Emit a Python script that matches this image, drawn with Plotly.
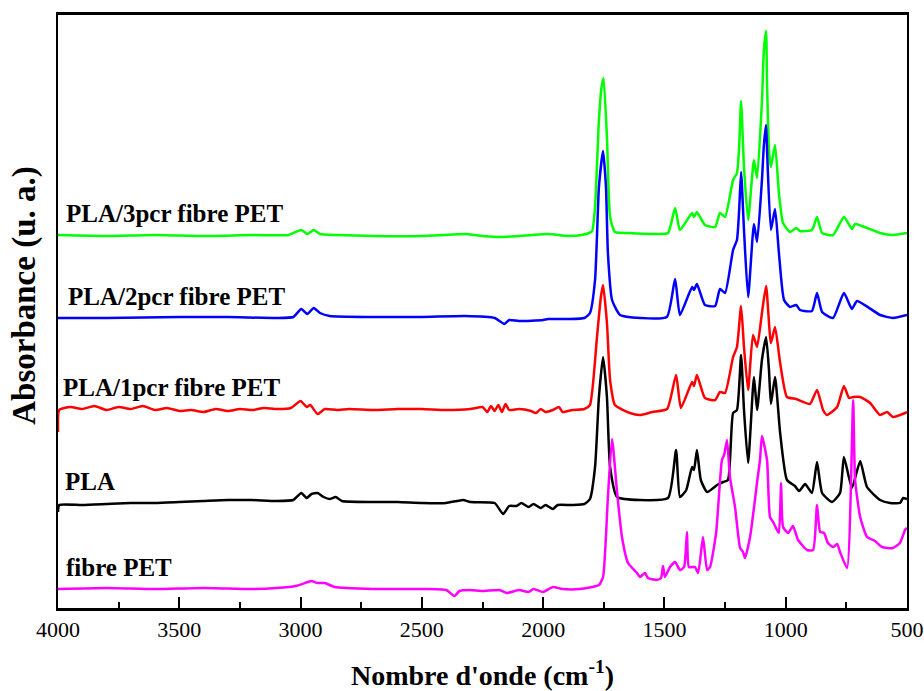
import plotly.graph_objects as go

# FTIR spectra (absorbance, arbitrary units, vertically offset for readability)

wn_pla3 = [4000, 3800, 3600, 3400, 3200, 3050, 2997, 2972, 2946, 2920, 2850, 2700, 2500, 2322, 2250,
           2166, 2100, 1980, 1900, 1840, 1811, 1798, 1786, 1770, 1759, 1751, 1737, 1724, 1704, 1650,
           1530, 1485, 1456, 1436, 1386, 1378, 1366, 1333, 1291, 1271, 1250, 1217, 1201, 1192, 1184,
           1172, 1155, 1131, 1118, 1098, 1090, 1081, 1077, 1069, 1061, 1044, 1028, 1011, 982, 957,
           941, 892, 871, 850, 805, 760, 727, 714, 611, 558, 500]
abs_pla3 = [373, 372, 373, 372, 373, 373, 378, 374, 378, 374, 373, 372, 372, 374, 372,
            371, 372, 374, 372, 373, 375, 377, 401, 488, 521, 530, 471, 391, 376, 375,
            374, 375, 400, 378, 395, 391, 396, 383, 381, 395, 391, 428, 435, 461, 507,
            441, 388, 448, 430, 507, 558, 577, 525, 458, 441, 463, 415, 385, 376, 380,
            377, 378, 391, 375, 373, 391, 379, 384, 375, 373, 375]

wn_pla2 = [4000, 3800, 3500, 3300, 3100, 3030, 2997, 2972, 2946, 2920, 2880, 2700, 2500, 2322, 2200,
           2160, 2140, 2100, 2000, 1980, 1900, 1830, 1807, 1786, 1770, 1753, 1741, 1733, 1716, 1683,
           1600, 1490, 1456, 1436, 1386, 1378, 1366, 1333, 1291, 1271, 1250, 1217, 1201, 1192, 1184,
           1172, 1155, 1131, 1118, 1098, 1090, 1081, 1077, 1061, 1044, 1028, 1007, 982, 957, 941,
           892, 871, 850, 805, 760, 727, 706, 611, 558, 500]
abs_pla2 = [290, 290, 291, 291, 290, 291, 299, 294, 300, 295, 292, 291, 291, 292, 290,
            284, 288, 287, 288, 289, 289, 290, 295, 328, 421, 457, 421, 355, 308, 293,
            290, 291, 329, 293, 321, 318, 324, 303, 302, 319, 315, 358, 368, 398, 436,
            378, 311, 384, 366, 428, 463, 483, 458, 378, 399, 355, 308, 301, 303, 298,
            297, 315, 296, 290, 315, 299, 307, 293, 290, 293]

wn_pla1 = [4000, 3995, 3950, 3900, 3850, 3800, 3750, 3700, 3650, 3600, 3550, 3500, 3450, 3400, 3350,
           3300, 3250, 3200, 3150, 3100, 3040, 3000, 2975, 2960, 2930, 2900, 2850, 2800, 2700, 2600,
           2500, 2400, 2300, 2250, 2230, 2215, 2200, 2185, 2170, 2155, 2140, 2100, 2050, 2030, 2010,
           1990, 1960, 1935, 1920, 1880, 1830, 1807, 1778, 1762, 1753, 1737, 1724, 1704, 1642, 1601,
           1550, 1489, 1452, 1432, 1386, 1378, 1366, 1333, 1291, 1271, 1250, 1217, 1201, 1184, 1172,
           1155, 1135, 1118, 1098, 1081, 1061, 1044, 1023, 995, 957, 900, 871, 846, 830, 788,
           760, 739, 722, 693, 652, 611, 582, 558, 508, 500]
abs_pla1 = [176, 198, 201, 199, 202, 198, 201, 199, 202, 198, 200, 197, 198, 196, 199,
            197, 199, 198, 200, 199, 200, 207, 201, 203, 194, 199, 198, 199, 198, 199,
            199, 198, 199, 201, 196, 202, 197, 203, 196, 204, 198, 199, 197, 195, 199,
            196, 198, 201, 196, 198, 199, 203, 271, 311, 323, 285, 228, 203, 195, 193,
            196, 199, 233, 200, 226, 222, 233, 210, 208, 216, 215, 251, 261, 302, 261,
            218, 273, 261, 295, 322, 265, 281, 245, 211, 209, 204, 218, 198, 193, 201,
            222, 210, 211, 211, 205, 193, 196, 191, 195, 196]

wn_pla = [4000, 3995, 3900, 3800, 3700, 3600, 3500, 3400, 3300, 3200, 3100, 3030, 2997, 2975, 2955,
          2930, 2905, 2880, 2855, 2830, 2700, 2600, 2500, 2400, 2330, 2300, 2200, 2165, 2140, 2110,
          2090, 2060, 2040, 2010, 1990, 1960, 1940, 1880, 1830, 1807, 1786, 1770, 1753, 1737, 1724,
          1695, 1601, 1485, 1452, 1436, 1410, 1386, 1378, 1366, 1350, 1324, 1283, 1258, 1238, 1217,
          1201, 1184, 1172, 1155, 1131, 1118, 1098, 1081, 1069, 1061, 1044, 1023, 995, 962, 945,
          920, 892, 871, 850, 809, 776, 760, 727, 693, 665, 611, 570, 529, 516, 500]
abs_pla = [96, 103, 103, 104, 105, 105, 106, 107, 108, 108, 107, 108, 115, 110, 114,
           115, 111, 109, 111, 107, 106, 106, 105, 105, 108, 106, 105, 94, 102, 102,
           105, 101, 104, 100, 103, 99, 103, 103, 104, 109, 141, 211, 251, 211, 141,
           111, 108, 110, 158, 111, 118, 141, 138, 158, 128, 116, 123, 126, 128, 195,
           198, 253, 198, 145, 231, 198, 248, 271, 238, 204, 231, 175, 128, 122, 117,
           124, 115, 146, 115, 106, 115, 151, 120, 147, 121, 108, 105, 105, 110, 109]

wn_pet = [4000, 3800, 3600, 3400, 3200, 3100, 3020, 2970, 2955, 2930, 2900, 2860, 2700, 2500, 2400,
          2365, 2345, 2300, 2250, 2180, 2150, 2100, 2060, 2040, 2000, 1960, 1920, 1850, 1770, 1753,
          1733, 1716, 1695, 1675, 1650, 1613, 1601, 1580, 1568, 1531, 1514, 1506, 1498, 1477, 1456,
          1436, 1419, 1407, 1399, 1374, 1361, 1341, 1324, 1312, 1287, 1263, 1254, 1242, 1230, 1209,
          1188, 1176, 1168, 1147, 1127, 1118, 1106, 1098, 1077, 1065, 1052, 1036, 1028, 1019, 1011,
          990, 970, 949, 912, 887, 871, 858, 842, 826, 805, 788, 776, 747, 722, 714,
          693, 665, 632, 603, 558, 529, 508, 500]
abs_pet = [19, 20, 19, 20, 19, 20, 22, 26, 27, 25, 25, 21, 19, 19, 18,
           12, 17, 18, 17, 18, 15, 18, 16, 19, 16, 21, 19, 19, 23, 31,
           111, 169, 115, 71, 45, 35, 31, 35, 30, 28, 30, 42, 31, 41, 46,
           38, 41, 76, 41, 41, 35, 71, 38, 41, 75, 148, 153, 168, 131, 101,
           60, 56, 50, 71, 108, 126, 148, 172, 148, 91, 86, 78, 75, 125, 81,
           75, 82, 68, 58, 58, 103, 76, 75, 65, 61, 64, 56, 40, 208, 128,
           91, 71, 67, 61, 60, 65, 78, 80]

series = [
    ("PLA/3pcr fibre PET", wn_pla3, abs_pla3, "#00FF00"),
    ("PLA/2pcr fibre PET", wn_pla2, abs_pla2, "#0000FF"),
    ("PLA/1pcr fibre PET", wn_pla1, abs_pla1, "#FF0000"),
    ("PLA", wn_pla, abs_pla, "#000000"),
    ("fibre PET", wn_pet, abs_pet, "#FF00FF"),
]

# label anchor: (wavenumber, absorbance) of each curve's name
label_pos = {
    "PLA/3pcr fibre PET": (3975, 395),
    "PLA/2pcr fibre PET": (3967, 312),
    "PLA/1pcr fibre PET": (3987, 221),
    "PLA": (3979, 127),
    "fibre PET": (3975, 41),
}

serif = "Liberation Serif, Times New Roman, serif"

fig = go.Figure()
for name, x, y, color in series:
    fig.add_trace(go.Scatter(x=x, y=y, mode="lines", name=name,
                             line=dict(color=color, width=2.5, shape="spline", smoothing=0.5)))
    lx, ly = label_pos[name]
    fig.add_annotation(x=lx, y=ly, xref="x", yref="y", text="<b>%s</b>" % name,
                       showarrow=False, xanchor="left", yanchor="middle",
                       font=dict(family=serif, size=25, color="black"))

# vertical axis title
fig.add_annotation(x=-0.039, y=0.528, xref="paper", yref="paper",
                   text="<b>Absorbance (u. a.)</b>", textangle=-90, showarrow=False,
                   xanchor="center", yanchor="middle",
                   font=dict(family=serif, size=33, color="black"))

fig.update_layout(
    width=924, height=691,
    margin=dict(l=58, r=17, t=15, b=83),
    paper_bgcolor="white", plot_bgcolor="white",
    showlegend=False,
    xaxis=dict(
        range=[4000, 500], autorange=False, automargin=False,
        tickmode="array", tickvals=[4000, 3500, 3000, 2500, 2000, 1500, 1000, 500],
        ticks="inside", ticklen=11, tickwidth=1.5, tickcolor="black",
        minor=dict(dtick=250, tick0=0, ticks="inside", ticklen=6, tickwidth=1.5, tickcolor="black"),
        showline=True, linecolor="black", linewidth=2.5, mirror=True,
        showgrid=False, zeroline=False,
        tickfont=dict(family=serif, size=22, color="black"),
        title=dict(text="<b>Nombre d'onde (cm<sup>-1</sup>)</b>", standoff=28,
                   font=dict(family=serif, size=28, color="black")),
    ),
    yaxis=dict(
        range=[0, 593], autorange=False, automargin=False,
        showticklabels=False, ticks="",
        showline=True, linecolor="black", linewidth=1.5, mirror=True,
        showgrid=False, zeroline=False,
    ),
)

fig.write_html("out.html")
